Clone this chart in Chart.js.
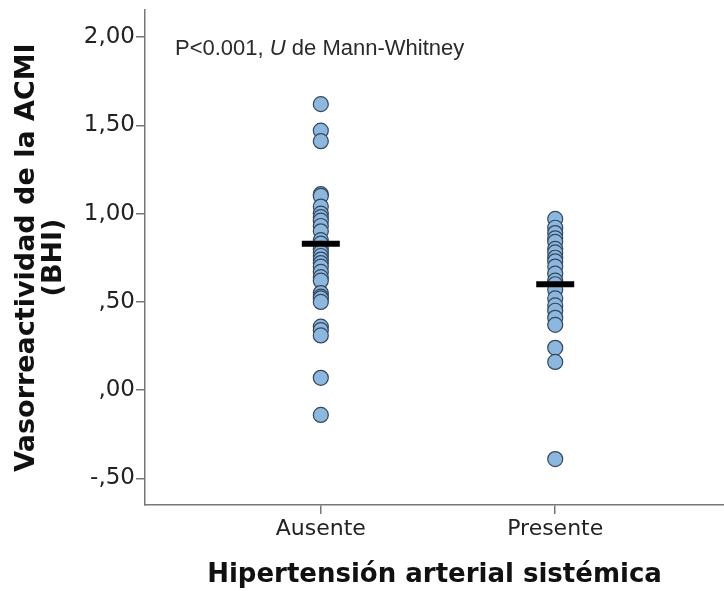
<!DOCTYPE html>
<html>
<head>
<meta charset="utf-8">
<script src="https://cdn.jsdelivr.net/npm/chart.js@4.4.1/dist/chart.umd.min.js"></script>
<style>
  html, body { margin: 0; padding: 0; background: #fff; overflow: hidden; }
  #wrap { width: 724px; height: 591px; }
</style>
</head>
<body>
<div id="wrap"><canvas id="bhiChart"></canvas></div>
<script>
// groups on the x axis
const categories = ['Ausente', 'Presente'];

// individual BHI values
const ausenteValues = [1.62, 1.47, 1.41, 1.11, 1.10, 1.04, 1.00, 0.98, 0.96, 0.93,
  0.90, 0.85, 0.83, 0.80, 0.78, 0.76, 0.74, 0.72, 0.70, 0.67,
  0.64, 0.62, 0.55, 0.53, 0.52, 0.50, 0.36, 0.34, 0.31, 0.07, -0.14];
const presenteValues = [0.97, 0.92, 0.89, 0.86, 0.84, 0.80, 0.78, 0.75, 0.73, 0.70,
  0.66, 0.62, 0.60, 0.57, 0.52, 0.48, 0.45, 0.41, 0.37, 0.24, 0.16, -0.39];

// group summary (black bars)
const groupMeans = [0.83, 0.60];

const yTicks = [-0.5, 0, 0.5, 1, 1.5, 2];

function fmtTick(v) {
  let s = Math.abs(v).toFixed(2).replace('.', ',');
  if (s.startsWith('0')) s = s.slice(1);
  return (v < 0 ? '-' : '') + s;
}

// test result written in the top-left corner of the plot
const annotation = {
  id: 'annotation',
  afterDraw(chart) {
    const c = chart.ctx;
    const a = chart.chartArea;
    c.save();
    c.fillStyle = '#2a2a2a';
    c.textBaseline = 'alphabetic';
    c.textAlign = 'left';
    let x = a.left + 30, y = a.top + 45;
    const parts = [['P<0.001, ', ''], ['U', 'italic '], [' de Mann-Whitney', '']];
    parts.forEach(p => {
      c.font = p[1] + '22px "Liberation Sans", Arial, sans-serif';
      c.fillText(p[0], x, y);
      x += c.measureText(p[0]).width;
    });
    c.restore();
  }
};

const ctx = document.getElementById('bhiChart').getContext('2d');

new Chart(ctx, {
  type: 'scatter',
  data: {
    datasets: [
      {
        label: 'Media',
        data: groupMeans.map((m, i) => ({ x: i + 1, y: m })),
        pointStyle: 'line',
        pointRadius: 19,
        pointHoverRadius: 19,
        borderColor: '#000',
        borderWidth: 6,
        order: 0
      },
      {
        label: categories[0],
        data: ausenteValues.map(v => ({ x: 1, y: v })),
        backgroundColor: '#8cb7df',
        borderColor: '#34475c',
        borderWidth: 1.2,
        pointRadius: 7.5,
        order: 1
      },
      {
        label: categories[1],
        data: presenteValues.map(v => ({ x: 2, y: v })),
        backgroundColor: '#8cb7df',
        borderColor: '#34475c',
        borderWidth: 1.2,
        pointRadius: 7.5,
        order: 1
      }
    ]
  },
  options: {
    responsive: true,
    maintainAspectRatio: false,
    animation: false,
    layout: { autoPadding: false, padding: { top: 10, right: 0, left: 0, bottom: 0 } },
    plugins: {
      legend: { display: false },
      tooltip: { enabled: false }
    },
    scales: {
      x: {
        type: 'linear',
        min: 0.25,
        max: 2.72,
        afterBuildTicks: s => { s.ticks = categories.map((c, i) => ({ value: i + 1 })); },
        afterFit: s => { s.height = 86; s.paddingLeft = 0; s.paddingRight = 0; },
        ticks: {
          callback: v => categories[v - 1],
          color: '#222',
          font: { family: '"DejaVu Sans", sans-serif', size: 22 },
          padding: 2,
          maxRotation: 0
        },
        grid: { drawOnChartArea: false, drawTicks: true, tickLength: 9, color: '#777', lineWidth: 1.5 },
        border: { color: '#777', width: 1.5 },
        title: {
          display: true,
          text: 'Hipertensión arterial sistémica',
          color: '#111',
          font: { family: '"DejaVu Sans", sans-serif', size: 26, weight: 'bold' },
          padding: { top: 4, bottom: 0 }
        }
      },
      y: {
        min: -0.65,
        max: 2.153,
        afterBuildTicks: s => { s.ticks = yTicks.map(v => ({ value: v })); },
        afterFit: s => { s.width = 145; s.paddingTop = 0; s.paddingBottom = 0; },
        ticks: {
          callback: v => fmtTick(v),
          color: '#222',
          font: { family: '"DejaVu Sans", sans-serif', size: 23 },
          padding: 1
        },
        grid: { drawOnChartArea: false, drawTicks: true, tickLength: 9, color: '#777', lineWidth: 1.5 },
        border: { color: '#777', width: 1.5 },
        title: {
          display: true,
          text: ['Vasorreactividad de la ACMI', '(BHI)'],
          color: '#111',
          font: { family: '"DejaVu Sans", sans-serif', size: 27, weight: 'bold', lineHeight: 1.02 },
          padding: { top: 13, bottom: 0 }
        }
      }
    }
  },
  plugins: [annotation]
});
</script>
</body>
</html>
